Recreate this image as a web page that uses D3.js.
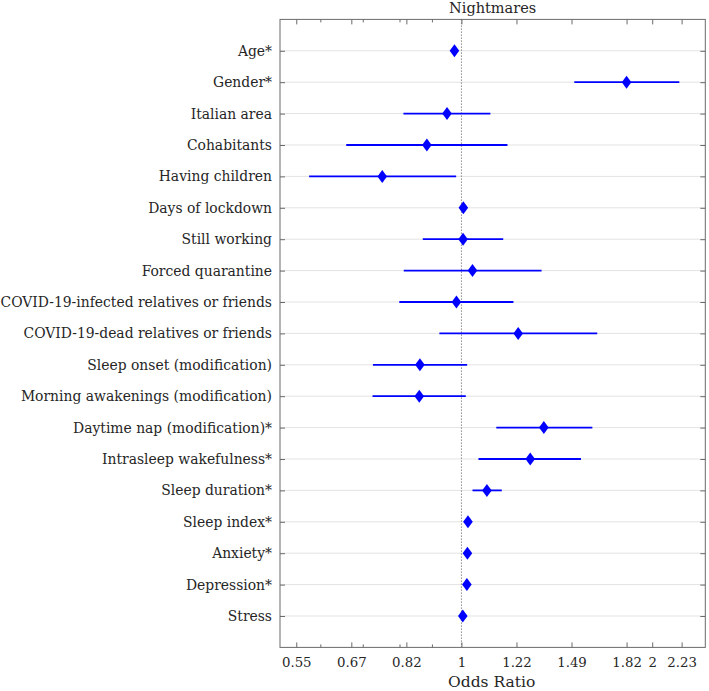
<!DOCTYPE html>
<html>
<head>
<meta charset="utf-8">
<script src="https://cdn.jsdelivr.net/npm/d3@7"></script>
<style>
  html, body { margin: 0; padding: 0; background: #fff; }
  svg { display: block; }
  svg text { font-family: "DejaVu Serif", "Liberation Serif", "Times New Roman", serif; fill: #262626; }
</style>
</head>
<body>
<svg id="chart" width="709" height="691"></svg>
<script>
const categories = [
  "Age*", "Gender*", "Italian area", "Cohabitants", "Having children",
  "Days of lockdown", "Still working", "Forced quarantine",
  "COVID-19-infected relatives or friends", "COVID-19-dead relatives or friends",
  "Sleep onset (modification)", "Morning awakenings (modification)",
  "Daytime nap (modification)*", "Intrasleep wakefulness*", "Sleep duration*",
  "Sleep index*", "Anxiety*", "Depression*", "Stress"
];
const oddsRatio = [0.975, 1.822, 0.949, 0.882, 0.750, 1.007, 1.006, 1.041, 0.982, 1.229,
                   0.860, 0.858, 1.349, 1.284, 1.097, 1.024, 1.022, 1.020, 1.005];
const ciLow  = [0.972, 1.507, 0.810, 0.658, 0.575, 1.004, 0.869, 0.811, 0.798, 0.923,
                0.725, 0.724, 1.135, 1.064, 1.041, 1.021, 1.019, 1.017, 1.003];
const ciHigh = [0.978, 2.207, 1.111, 1.182, 0.981, 1.010, 1.164, 1.338, 1.208, 1.638,
                1.021, 1.016, 1.609, 1.544, 1.158, 1.027, 1.025, 1.023, 1.007];
const tickValues = [0.5488, 0.6703, 0.8187, 1, 1.2214, 1.4918, 1.8221, 2, 2.2255];
const tickLabels = ["0.55", "0.67", "0.82", "1", "1.22", "1.49", "1.82", "2", "2.23"];
const minorTicks = [0.6, 0.7, 0.8, 0.9];
const xDomain = [0.5173, 2.4254];
const title = "Nightmares";
const xLabel = "Odds Ratio";

const FONT = '"DejaVu Serif", "Liberation Serif", serif';
const svg = d3.select("#chart");
const L = 280, R = 705.3, T = 19.4, B = 647.4;

const x = d3.scaleLog().domain(xDomain).range([L, R]);
const y = d3.scaleLinear().domain([-1, categories.length]).range([T, B]);

const axisColor = "#6b6b6b";

svg.append("g").selectAll("line").data(categories).join("line")
  .attr("x1", L).attr("x2", R)
  .attr("y1", (d, i) => y(i)).attr("y2", (d, i) => y(i))
  .attr("stroke", "#e3e3e3").attr("stroke-width", 1);

svg.append("line")
  .attr("x1", x(1)).attr("x2", x(1)).attr("y1", T).attr("y2", B)
  .attr("stroke", "#8a8a8a").attr("stroke-width", 1).attr("stroke-dasharray", "1.5,1.5");

const bottomAxis = d3.axisBottom(x).tickValues(tickValues)
  .tickFormat((d, i) => tickLabels[i]).tickSizeInner(-5).tickSizeOuter(0).tickPadding(10);
const gB = svg.append("g").attr("transform", `translate(0,${B})`).call(bottomAxis)
  .attr("font-family", null).attr("font-size", null);
gB.select(".domain").remove();
gB.selectAll("line").attr("stroke", axisColor);
gB.selectAll("text").style("font-size", "13.3px").style("font-family", FONT).attr("fill", "#262626");

const topAxis = d3.axisTop(x).tickValues(tickValues).tickFormat("").tickSizeInner(-5).tickSizeOuter(0);
const gT = svg.append("g").attr("transform", `translate(0,${T})`).call(topAxis);
gT.select(".domain").remove();
gT.selectAll("line").attr("stroke", axisColor);

const gMinor = svg.append("g");
gMinor.selectAll("line.mb").data(minorTicks).join("line").attr("class", "mb")
  .attr("x1", d => x(d)).attr("x2", d => x(d)).attr("y1", B).attr("y2", B - 3)
  .attr("stroke", axisColor);
gMinor.selectAll("line.mt").data(minorTicks).join("line").attr("class", "mt")
  .attr("x1", d => x(d)).attr("x2", d => x(d)).attr("y1", T).attr("y2", T + 3)
  .attr("stroke", axisColor);

const yIdx = d3.range(categories.length);
const leftAxis = d3.axisLeft(y).tickValues(yIdx).tickFormat(i => categories[i])
  .tickSizeInner(-5).tickSizeOuter(0).tickPadding(8);
const gL = svg.append("g").attr("transform", `translate(${L},0)`).call(leftAxis)
  .attr("font-family", null).attr("font-size", null);
gL.select(".domain").remove();
gL.selectAll("line").attr("stroke", axisColor);
gL.selectAll("text").style("font-size", "13.9px").style("font-family", FONT).attr("fill", "#262626");

const rightAxis = d3.axisRight(y).tickValues(yIdx).tickFormat("").tickSizeInner(-5).tickSizeOuter(0);
const gR = svg.append("g").attr("transform", `translate(${R},0)`).call(rightAxis);
gR.select(".domain").remove();
gR.selectAll("line").attr("stroke", axisColor);

svg.append("rect").attr("x", L).attr("y", T).attr("width", R - L).attr("height", B - T)
  .attr("fill", "none").attr("stroke", axisColor).attr("stroke-width", 1);

svg.append("g").selectAll("line").data(categories).join("line")
  .attr("x1", (d, i) => x(ciLow[i])).attr("x2", (d, i) => x(ciHigh[i]))
  .attr("y1", (d, i) => y(i)).attr("y2", (d, i) => y(i))
  .attr("stroke", "#0000ff").attr("stroke-width", 1.8);

svg.append("g").selectAll("path").data(categories).join("path")
  .attr("d", (d, i) => {
    const cx = x(oddsRatio[i]), cy = y(i), w = 4.8, h = 6.5;
    return `M${cx},${cy - h}L${cx + w},${cy}L${cx},${cy + h}L${cx - w},${cy}Z`;
  })
  .attr("fill", "#0000ff");

svg.append("text").attr("x", (L + R) / 2).attr("y", 13).attr("text-anchor", "middle")
  .style("font-size", "14.5px").style("font-family", FONT).text(title);
svg.append("text").attr("x", (L + R) / 2 - 1).attr("y", 687).attr("text-anchor", "middle")
  .style("font-size", "15.5px").style("font-family", FONT).text(xLabel);
</script>
</body>
</html>
